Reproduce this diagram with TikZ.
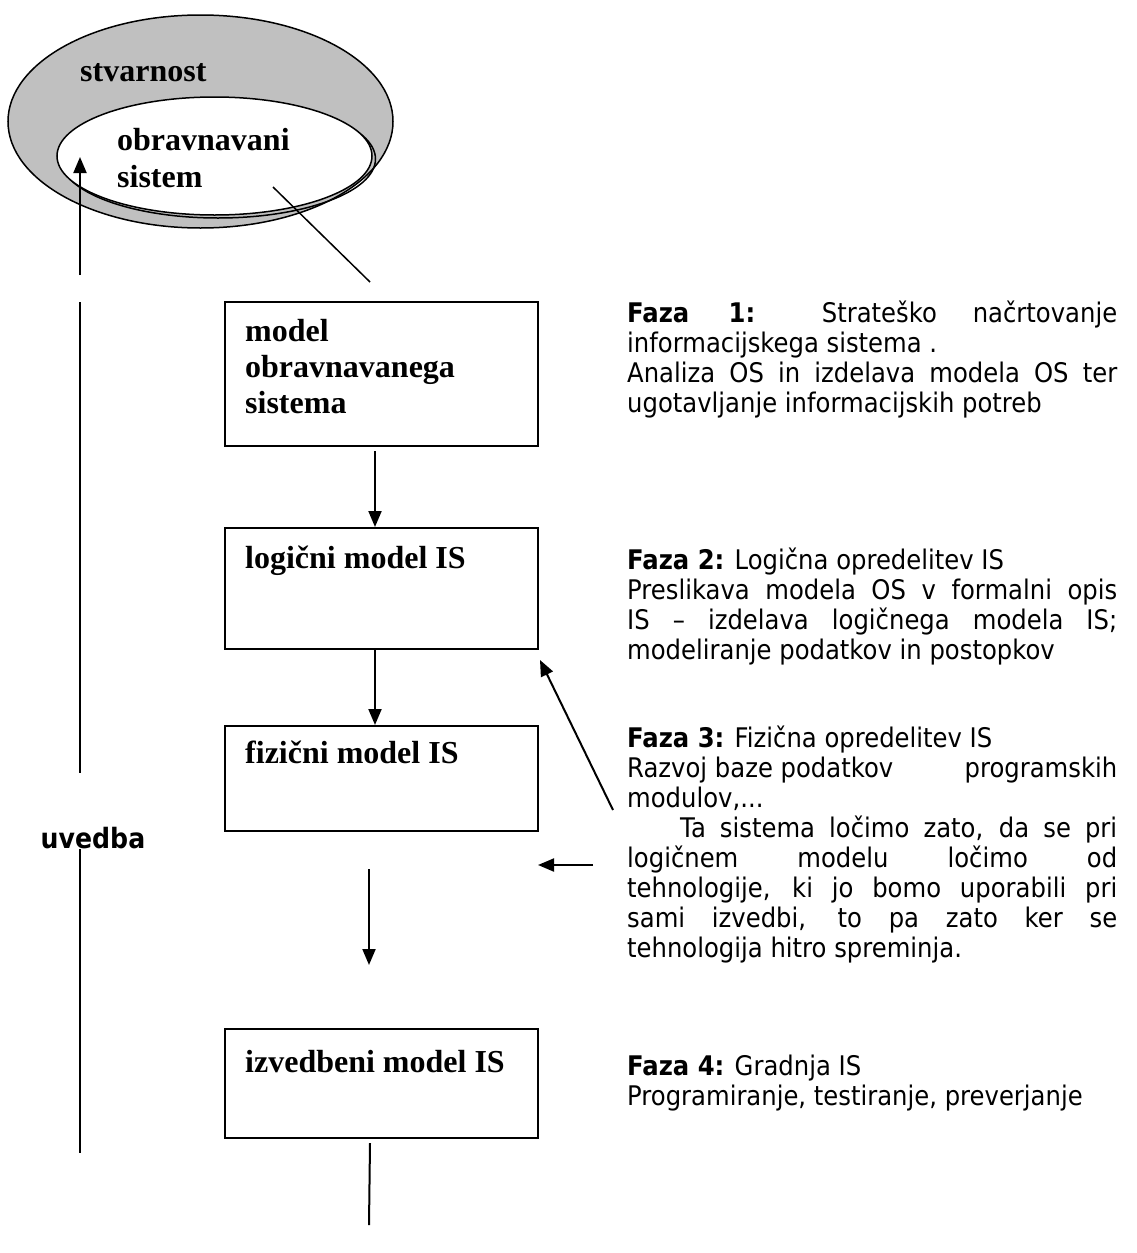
\documentclass[tikz,border=0pt]{standalone}
\usepackage{fontspec}
\setmainfont{Liberation Serif}
\newfontfamily\notefont[FakeStretch=0.9]{DejaVu Sans}
\usetikzlibrary{arrows.meta}
\definecolor{realgray}{HTML}{C0C0C0}
% a line of justified text, spread to the column width
\newcommand\jline[1]{\makebox[490pt][s]{#1}}
\tikzset{
  stepbox/.style={draw, line width=2pt, rectangle, anchor=north west,
    inner sep=0pt, minimum width=313pt},
  boxlabel/.style={anchor=base west, inner sep=0pt,
    font=\fontsize{32}{36}\selectfont\bfseries},
  note/.style={anchor=base west, inner sep=0pt,
    font=\fontsize{27}{30}\selectfont\notefont},
  arr/.style={line width=2pt, -{Triangle[length=16pt,width=13pt]}},
  plainline/.style={line width=2pt},
  thinline/.style={line width=1.5pt},
}
\begin{document}
\begin{tikzpicture}[x=1pt, y=-1pt]
\useasboundingbox (0,0) rectangle (1137,1253);

% reality and the system under consideration
\filldraw[fill=realgray, thinline] (200.5,121.5) ellipse [x radius=192.5pt, y radius=106.5pt];
\draw[thinline] (218,159) ellipse [x radius=157.5pt, y radius=59pt];
\filldraw[fill=white, thinline] (214.5,156) ellipse [x radius=157.5pt, y radius=59pt];
\node[boxlabel] (real) at (80,81) {stvarnost};
\node[boxlabel] (os1) at (117,150) {obravnavani};
\node[boxlabel] (os2) at (117,187) {sistem};
\coordinate (osp) at (273,187);
\coordinate (osq) at (370,282);
\draw[thinline] (osp) -- (osq);

% model boxes
\node[stepbox, minimum height=144pt] (b1) at (224,301) {};
\node[stepbox, minimum height=121pt] (b2) at (224,527) {};
\node[stepbox, minimum height=105pt] (b3) at (224,725) {};
\node[stepbox, minimum height=109pt] (b4) at (224,1028) {};

\node[boxlabel] (t1a) at (245,341) {model};
\node[boxlabel] (t1b) at (245,377) {obravnavanega};
\node[boxlabel] (t1c) at (245,413) {sistema};
\node[boxlabel] (t2) at (245,568) {logični model IS};
\node[boxlabel] (t3) at (245,763) {fizični model IS};
\node[boxlabel] (t4) at (245,1072) {izvedbeni model IS};

% flow between the models
\draw[arr] ([xshift=-6.5pt,yshift=-4pt]b1.south) -- ([xshift=-6.5pt]b2.north);
\draw[arr] ([xshift=-6.5pt]b2.south) -- ([xshift=-6.5pt]b3.north);
\coordinate (m1) at (369,869);
\coordinate (m2) at (369,965);
\draw[arr] (m1) -- (m2);
\coordinate (endb) at (369,1225);
\draw[plainline] ([xshift=-11.5pt,yshift=-4pt]b4.south) -- (endb);

% pointers from the phase notes
\coordinate (p3) at (613,810);
\coordinate (p3t) at (540,660);
\draw[arr] (p3) -- (p3t);
\coordinate (p4) at (593,865);
\coordinate (p4t) at (538,865);
\draw[arr] (p4) -- (p4t);

% deployment line on the left
\coordinate (u0) at (80,275);
\coordinate (u1) at (80,157);
\draw[arr] (u0) -- (u1);
\coordinate (u2) at (80,302);
\coordinate (u3) at (80,773);
\draw[plainline] (u2) -- (u3);
\node[anchor=center, inner sep=0pt, font=\fontsize{28}{30}\selectfont\notefont\bfseries] (uv) at (93,838) {uvedba};
\coordinate (u4) at (80,849);
\coordinate (u5) at (80,1153);
\draw[plainline] (u4) -- (u5);

% phase descriptions
\node[note] (f1a) at (627,322) {\jline{\textbf{Faza 1:} Strateško načrtovanje}};
\node[note] (f1b) at (627,352) {informacijskega sistema .};
\node[note] (f1c) at (627,382) {\jline{Analiza OS in izdelava modela OS ter}};
\node[note] (f1d) at (627,412) {ugotavljanje informacijskih potreb};

\node[note] (f2a) at (627,569) {\textbf{Faza 2:} Logična opredelitev IS};
\node[note] (f2b) at (627,599) {\jline{Preslikava modela OS v formalni opis}};
\node[note] (f2c) at (627,629) {\jline{IS – izdelava logičnega modela IS;}};
\node[note] (f2d) at (627,659) {modeliranje podatkov in postopkov};

\node[note] (f3a) at (627,747) {\textbf{Faza 3:} Fizična opredelitev IS};
\node[note] (f3b) at (627,777) {\jline{Razvoj baze podatkov\hfill programskih}};
\node[note] (f3c) at (627,807) {modulov,...};
\node[note] (f3d) at (627,837) {\jline{\hspace*{53pt}Ta sistema ločimo zato, da se pri}};
\node[note] (f3e) at (627,867) {\jline{logičnem modelu ločimo od}};
\node[note] (f3f) at (627,897) {\jline{tehnologije, ki jo bomo uporabili pri}};
\node[note] (f3g) at (627,927) {\jline{sami izvedbi, to pa zato ker se}};
\node[note] (f3h) at (627,957) {tehnologija hitro spreminja.};

\node[note] (f4a) at (627,1075) {\textbf{Faza 4:} Gradnja IS};
\node[note] (f4b) at (627,1105) {Programiranje, testiranje, preverjanje};
\end{tikzpicture}
\end{document}
